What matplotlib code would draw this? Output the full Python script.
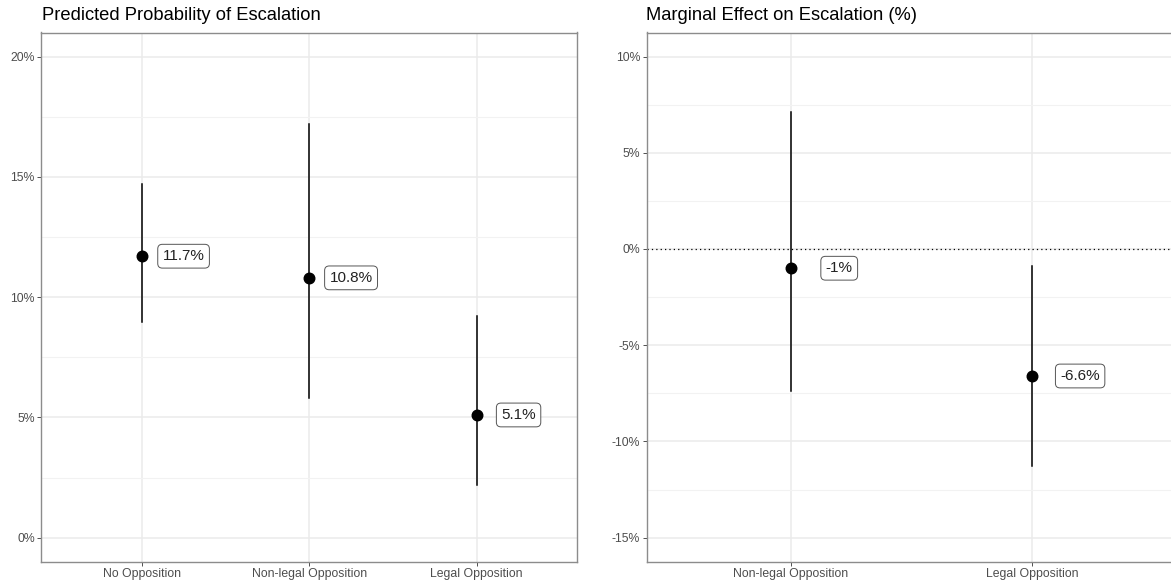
"""Predicted probability and marginal effect of escalation, two panels."""

import matplotlib
matplotlib.use("Agg")
import matplotlib.pyplot as plt

plt.rcParams['font.family'] = ['Liberation Sans', 'DejaVu Sans']

# Data (percent)
cats_left = ["No Opposition", "Non-legal Opposition", "Legal Opposition"]
prob = [11.7, 10.8, 5.1]
prob_lo = [8.95, 5.8, 2.2]
prob_hi = [14.7, 17.2, 9.2]
yticks_left = [0, 5, 10, 15, 20]

cats_right = ["Non-legal Opposition", "Legal Opposition"]
me = [-1.0, -6.6]
me_lo = [-7.4, -11.3]
me_hi = [7.1, -0.9]
yticks_right = [-15, -10, -5, 0, 5, 10]

# =============================================================================
W, H = 1171, 585
fig = plt.figure(figsize=(W / 100, H / 100), dpi=100)

ax1 = fig.add_axes([41.2 / W, 23.3 / H, 536.0 / W, 529.2 / H])
ax2 = fig.add_axes([646.5 / W, 23.3 / H, 530.0 / W, 529.2 / H])

GRID = "#EBEBEB"
MINOR = "#F2F2F2"
FRAME = "#8C8C8C"


def style(ax, cats, yticks, ylim):
    n = len(cats)
    ax.set_xlim(-0.6, n - 1 + 0.6)
    ax.set_ylim(*ylim)
    ax.set_xticks(range(n))
    ax.set_xticklabels(cats)
    ax.set_yticks(yticks)
    ax.set_yticklabels([f"{v:g}%" for v in yticks])
    minor = [v + 2.5 for v in yticks[:-1]]
    ax.set_yticks(minor, minor=True)
    ax.tick_params(axis="y", which="minor", length=0)
    ax.grid(True, which="major", color=GRID, lw=1.1, zorder=0)
    ax.grid(True, which="minor", axis="y", color=MINOR, lw=0.8, zorder=0)
    ax.set_axisbelow(True)
    ax.tick_params(which="major", length=2.75, width=0.6, color="#333333",
                   labelsize=8.8, labelcolor="#4D4D4D", pad=1.8)
    for s in ax.spines.values():
        s.set_color(FRAME)
        s.set_linewidth(1.0)


def draw(ax, vals, lo, hi, nudge):
    for i, (v, a, b) in enumerate(zip(vals, lo, hi)):
        ax.plot([i, i], [a, b], color="black", lw=1.1, zorder=3)
        ax.plot(i, v, "o", color="black", ms=7.6, zorder=4)
        ax.text(i + nudge, v, f"{v:g}%", fontsize=11, ha="center", va="center",
                color="#222222", zorder=5,
                bbox=dict(boxstyle="round,pad=0.32,rounding_size=0.3",
                          fc="white", ec="#555555", lw=0.7))


# -----------------------------------------------------------------------------
style(ax1, cats_left, yticks_left, (-1.0, 21.0))
draw(ax1, prob, prob_lo, prob_hi, 0.25)

style(ax2, cats_right, yticks_right, (-16.25, 11.25))
ax2.axhline(0, color="black", lw=0.9, ls=(0, (1, 2.5)), zorder=2)
draw(ax2, me, me_lo, me_hi, 0.2)

fig.text(41.5 / W, 1 - 15 / H, "Predicted Probability of Escalation",
         fontsize=13.2, color="black", ha="left", va="center")
fig.text(646.5 / W, 1 - 15 / H, "Marginal Effect on Escalation (%)",
         fontsize=13.2, color="black", ha="left", va="center")

fig.savefig("out.png", dpi=100)
